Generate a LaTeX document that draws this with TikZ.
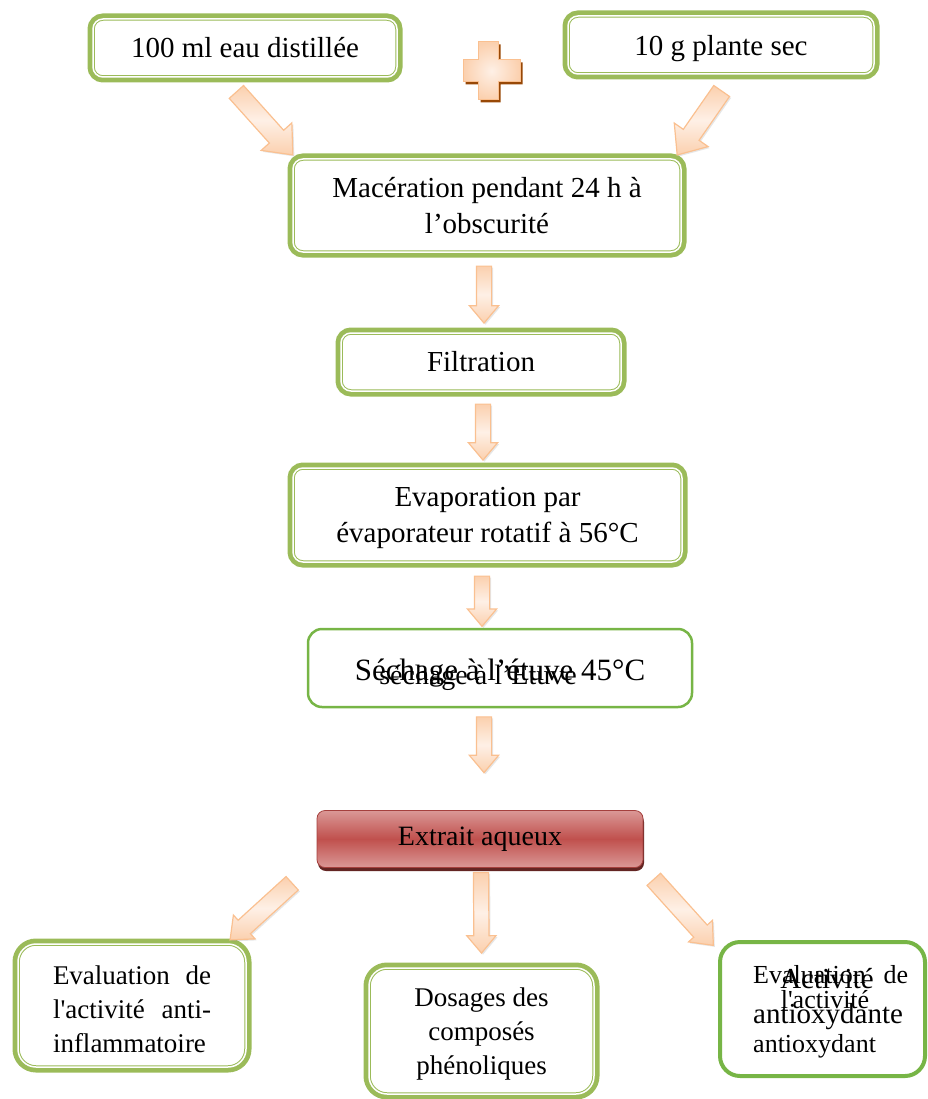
\documentclass[tikz,border=0pt]{standalone}
\usepackage{fontspec}
\setmainfont{Liberation Serif}
\usetikzlibrary{calc,shapes.arrows,shadows}
\setlength\parindent{0pt}

\definecolor{grn}{HTML}{9BBB59}
\definecolor{grn2}{HTML}{77B546}
\definecolor{arrline}{HTML}{FAC090}
\definecolor{arrdark}{HTML}{FBD0AE}
\definecolor{arrlight}{HTML}{FEF0E6}
\definecolor{redmid}{HTML}{C0504D}
\definecolor{redlight}{HTML}{DA9896}
\definecolor{redline}{HTML}{A5403D}
\definecolor{reddark}{HTML}{632523}
\definecolor{crossshadow}{HTML}{984806}

\tikzset{
  greenbox/.style={rounded corners=10pt, preaction={draw=grn, line width=11pt},
    fill=white, draw=grn, double=white, double distance=1.5pt, line width=1pt,
    inner sep=0pt, align=center},
  thinbox/.style={draw=grn2, line width=2.5pt, rounded corners=14pt, fill=white, inner sep=0pt},
  redbox/.style={draw=redline, line width=0.8pt, rounded corners=8pt,
    top color=redlight, bottom color=redlight, middle color=redmid,
    minimum width=326pt, minimum height=57pt,
    drop shadow={shadow xshift=1pt, shadow yshift=-3.5pt, fill=reddark, opacity=1}},
  bigarrow/.style={single arrow, draw=arrline, line width=1.2pt,
    top color=arrdark, bottom color=arrdark, middle color=arrlight,
    inner xsep=0pt, inner ysep=7pt, single arrow head extend=7pt, single arrow tip angle=80,
    drop shadow={shadow xshift=1.5pt, shadow yshift=-1.5pt, opacity=0.2}},
  lowfont/.style={font=\fontsize{27}{34}\selectfont},
}

% block arrow from one point to another
\newcommand\fatarrow[3][]{%
  \path let \p1=(#2), \p2=(#3), \n1={atan2(\y2-\y1,\x2-\x1)}, \n2={veclen(\x2-\x1,\y2-\y1)} in
    node[bigarrow, #1, rotate=\n1, minimum height=\n2, anchor=tail] at (\p1) {};}

\begin{document}
\begin{tikzpicture}[x=1pt, y=-1pt, font=\fontsize{29}{36}\selectfont]
\useasboundingbox (0,0) rectangle (927,1099);

% steps
\node[greenbox, minimum width=304pt, minimum height=58pt] (b1) at (245,48) {100 ml eau distillée};
\node[greenbox, minimum width=306pt, minimum height=58pt, text depth=0pt] (b2) at (721,45) {10 g plante sec};
\node[greenbox, minimum width=388pt, minimum height=93pt, text depth=-5pt] (b3) at (487,205.5) {Macération pendant 24 h à\\ l’obscurité};
\node[greenbox, minimum width=280pt, minimum height=58pt] (b4) at (481,362) {Filtration};
\node[greenbox, minimum width=389pt, minimum height=94pt, text depth=-4.5pt] (b5) at (487.5,515) {Evaporation par\\ évaporateur rotatif à 56°C};
\node[thinbox, minimum width=384pt, minimum height=78pt, text height=24pt, text depth=0pt,
  font=\fontsize{31}{36}\selectfont] (b6) at (500,668) {Séchage à l’étuve 45°C};
\node[font=\fontsize{28}{34}\selectfont, anchor=base, inner sep=0pt] (b6b) at (478,684) {séchage à l’Etuve};
\node[redbox, font=\fontsize{28}{34}\selectfont] (ext) at (480,839) {Extrait aqueux};

% results
\node[greenbox, rounded corners=18pt, minimum width=228pt, minimum height=123pt,
  text width=158pt, align=left, text depth=60pt, lowfont] (b8) at (132,1005.5)
  {Evaluation\hfill de\\ l\textquotesingle activité\hfill anti-\\ inflammatoire};
\node[greenbox, rounded corners=18pt, minimum width=225pt, minimum height=126pt, text depth=-1pt, lowfont] (b9) at (481.5,1031)
  {Dosages des\\ composés\\ phénoliques};
\node[thinbox, line width=4pt, rounded corners=20pt, minimum width=205pt, minimum height=134pt] (b10) at (822.5,1009) {};
\node[anchor=base west, inner sep=0pt, font=\fontsize{26}{30}\selectfont] (ev1) at (753,983) {\hbox to 155pt{Evaluation\hfill de}};
\node[anchor=base, inner sep=0pt, font=\fontsize{26}{30}\selectfont] (ev2) at (825,1008) {l\textquotesingle activité};
\node[anchor=base west, inner sep=0pt, font=\fontsize{26}{30}\selectfont] (ev3) at (753,1052) {antioxydant};
\node[anchor=base, inner sep=0pt] (act1) at (827,988) {Activité};
\node[anchor=base west, inner sep=0pt] (act2) at (753,1023) {antioxydante};

% plus sign
\fill[crossshadow] (480.5,44.5) -- (500.5,44.5) -- (500.5,62.5) -- (522.5,62.5) -- (522.5,84.5) -- (500.5,84.5) -- (500.5,102.5)
  -- (480.5,102.5) -- (480.5,84.5) -- (465.5,84.5) -- (465.5,62.5) -- (480.5,62.5) -- cycle;
\draw[arrline, line width=1pt, inner color=arrlight, outer color=arrdark]
  (478,42) -- (498,42) -- (498,60) -- (520,60) -- (520,82) -- (498,82) -- (498,100)
  -- (478,100) -- (478,82) -- (463,82) -- (463,60) -- (478,60) -- cycle;

% arrows
\fatarrow[inner ysep=9pt, single arrow head extend=11pt]{$(b1.south)+(-9,14)$}{$(b3.north west)+(0,-4)$}
\fatarrow[inner ysep=9pt, single arrow head extend=11pt]{$(b2.south)+(1,16)$}{$(b3.north east)+(-4,-4)$}
\fatarrow{$(b3.south)+(-3,13)$}{$(b4.north)+(3,-10)$}
\fatarrow{$(b4.south)+(2,12)$}{$(b5.north)+(-4.5,-8)$}
\fatarrow{$(b5.south)+(-5.5,13)$}{$(b6.north)+(-18,-2)$}
\fatarrow{$(b6.south)+(-16,8)$}{$(ext.north)+(4,-38)$}
\fatarrow[inner ysep=8.5pt]{$(ext.south west)+(-24,15)$}{$(b8.north east)+(-16,-4)$}
\fatarrow{$(ext.south)+(1,4)$}{$(b9.north)+(0,-15)$}
\fatarrow[inner ysep=8.5pt]{$(ext.south east)+(10,11)$}{$(b10.north west)+(-5,5)$}
\end{tikzpicture}
\end{document}
